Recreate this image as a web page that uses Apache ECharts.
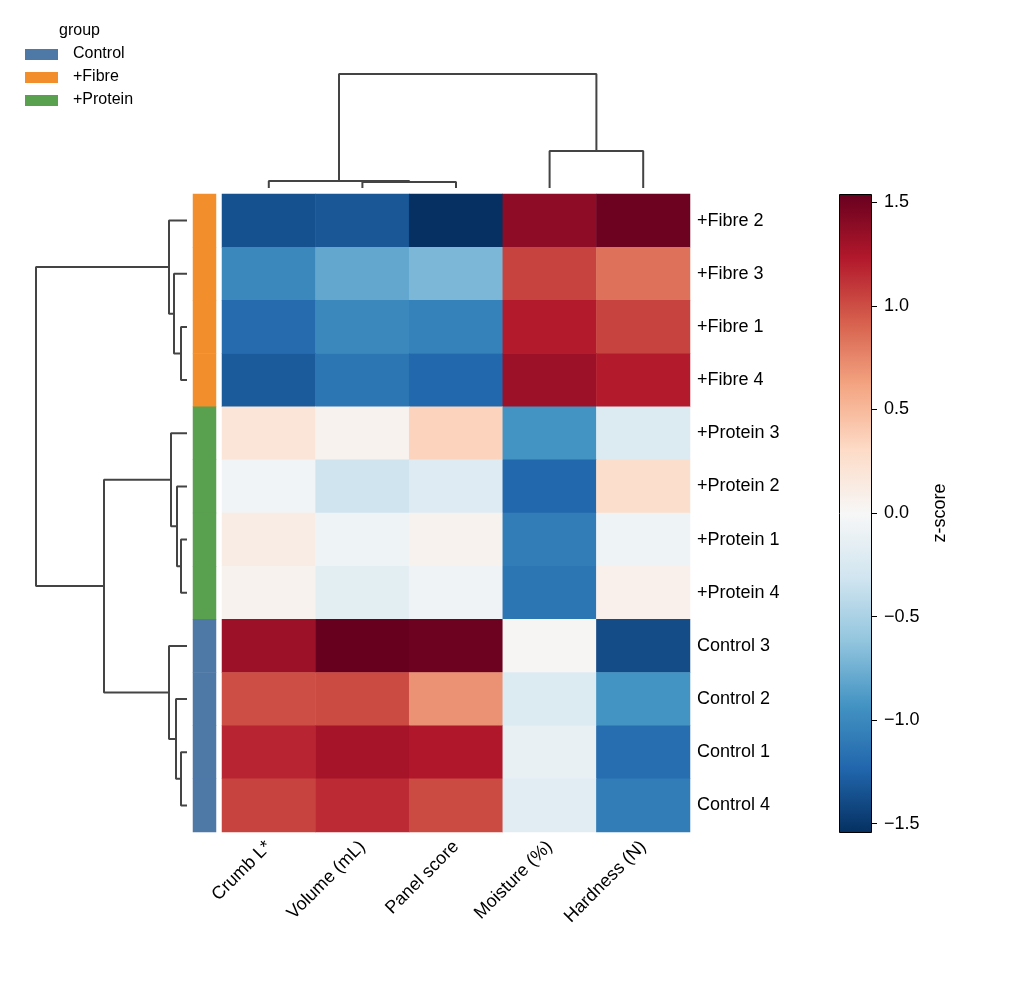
<!DOCTYPE html>
<html>
<head>
<meta charset="utf-8">
<script src="https://cdn.jsdelivr.net/npm/echarts@6/dist/echarts.min.js"></script>
<style>html,body{margin:0;padding:0;background:#fff}</style>
</head>
<body>
<div id="chart" style="width:1011px;height:990px;"></div>
<script>
var chart = echarts.init(document.getElementById('chart'));

// data
var cols = ['Crumb L*', 'Volume (mL)', 'Panel score', 'Moisture (%)', 'Hardness (N)'];
var rows = ['+Fibre 2', '+Fibre 3', '+Fibre 1', '+Fibre 4', '+Protein 3', '+Protein 2', '+Protein 1', '+Protein 4',
            'Control 3', 'Control 2', 'Control 1', 'Control 4'];
var rowGroup = ['+Fibre', '+Fibre', '+Fibre', '+Fibre', '+Protein', '+Protein', '+Protein', '+Protein',
                'Control', 'Control', 'Control', 'Control'];
var zvals = [
  [-1.35, -1.32, -1.55, 1.38, 1.52],
  [-1.00, -0.80, -0.70, 1.05, 0.85],
  [-1.20, -1.00, -1.05, 1.22, 1.05],
  [-1.30, -1.12, -1.22, 1.32, 1.22],
  [ 0.20,  0.05,  0.35, -0.92, -0.22],
  [-0.05, -0.32, -0.20, -1.22, 0.27],
  [ 0.12, -0.07,  0.05, -1.08, -0.07],
  [ 0.06, -0.16, -0.06, -1.12, 0.08],
  [ 1.32,  1.55,  1.52,  0.02, -1.38],
  [ 1.00,  1.02,  0.70, -0.22, -0.92],
  [ 1.18,  1.28,  1.24, -0.12, -1.18],
  [ 1.05,  1.15,  1.02, -0.18, -1.08]
];
var groups = ['Control', '+Fibre', '+Protein'];
var groupColors = {'Control': '#4e79a7', '+Fibre': '#f28e2b', '+Protein': '#59a14f'};
// dendrogram links: [posA, posB, height, heightA, heightB]
var rowLinks = [
  [2, 3, 6, 0, 0], [1, 2.5, 13, 0, 6], [0, 1.75, 18, 0, 13],
  [6, 7, 6, 0, 0], [5, 6.5, 10, 0, 6], [4, 5.75, 16, 0, 10],
  [10, 11, 6, 0, 0], [9, 10.5, 11, 0, 6], [8, 9.75, 18, 0, 11],
  [4.875, 8.875, 83, 16, 18], [0.875, 6.875, 151, 18, 83]
];
var colLinks = [
  [1, 2, 6, 0, 0], [0, 1.5, 7, 0, 6], [3, 4, 37, 0, 0], [0.75, 3.5, 114, 7, 37]
];
var zMin = -1.54, zMax = 1.54;
var cmap = ['#053061', '#2166ac', '#4393c3', '#92c5de', '#d1e5f0', '#f7f7f7',
            '#fddbc7', '#f4a582', '#d6604d', '#b2182b', '#67001f'];

var heatData = [];
zvals.forEach(function (r, i) { r.forEach(function (v, j) { heatData.push([j, i, v]); }); });
var stripData = rowGroup.map(function (g, i) { return {value: [0, i, 1], itemStyle: {color: groupColors[g]}}; });

var lineStyle = {color: '#444', width: 2};
var series = [
  {type: 'heatmap', xAxisIndex: 0, yAxisIndex: 0, data: heatData},
  {type: 'heatmap', xAxisIndex: 1, yAxisIndex: 1, data: stripData}
];
rowLinks.forEach(function (l) {
  series.push({type: 'line', xAxisIndex: 3, yAxisIndex: 3, symbol: 'none', silent: true, lineStyle: lineStyle,
    data: [[l[3], l[0]], [l[2], l[0]], [l[2], l[1]], [l[4], l[1]]]});
});
colLinks.forEach(function (l) {
  series.push({type: 'line', xAxisIndex: 4, yAxisIndex: 4, symbol: 'none', silent: true, lineStyle: lineStyle,
    data: [[l[0], l[3]], [l[0], l[2]], [l[1], l[2]], [l[1], l[4]]]});
});

var font = 'Liberation Sans, Arial, sans-serif';
var hidden = {show: false};
var stops = cmap.map(function (c, i) { return {offset: 1 - i / (cmap.length - 1), color: c}; }).reverse();
// colour bar spans zMin..zMax over 638px; axis grid spans -1.5..1.5
var cbTop = 194, cbH = 638, pxPer = cbH / (zMax - zMin);
var graphics = [
  {type: 'rect', left: 839, top: cbTop, z: -1, shape: {width: 32, height: cbH},
    style: {fill: new echarts.graphic.LinearGradient(0, 0, 0, 1, stops), stroke: '#000', lineWidth: 1}},
  {type: 'text', left: 59, top: 23, style: {text: 'group', font: '16px ' + font, fill: '#000'}}
];
groups.forEach(function (g, i) {
  graphics.push({type: 'rect', left: 25, top: 49 + i * 23, shape: {width: 33, height: 11}, style: {fill: groupColors[g]}});
  graphics.push({type: 'text', left: 73, top: 46 + i * 23, style: {text: g, font: '16px ' + font, fill: '#000'}});
});

chart.setOption({
  animation: false,
  backgroundColor: '#fff',
  textStyle: {fontFamily: font},
  grid: [
    {left: 222, top: 194, width: 468, height: 638},
    {left: 193, top: 194, width: 23, height: 638},
    {left: 839, top: cbTop + (zMax - 1.5) * pxPer, width: 32, height: 3 * pxPer},
    {left: 30, top: 194, width: 157, height: 638},
    {left: 222, top: 68, width: 468, height: 120}
  ],
  xAxis: [
    {type: 'category', gridIndex: 0, data: cols, position: 'bottom', axisLine: hidden, axisTick: hidden,
      axisLabel: {rotate: 45, fontSize: 18, color: '#000', margin: 12, interval: 0}},
    {type: 'category', gridIndex: 1, data: ['g'], show: false},
    {type: 'value', gridIndex: 2, min: 0, max: 1, show: false},
    {type: 'value', gridIndex: 3, min: 0, max: 157, inverse: true, show: false},
    {type: 'value', gridIndex: 4, min: -0.5, max: 4.5, show: false}
  ],
  yAxis: [
    {type: 'category', gridIndex: 0, data: rows, inverse: true, position: 'right', axisLine: hidden, axisTick: hidden,
      axisLabel: {fontSize: 18, color: '#000', margin: 7}},
    {type: 'category', gridIndex: 1, data: rows, inverse: true, show: false},
    {type: 'value', gridIndex: 2, min: -1.5, max: 1.5, interval: 0.5, position: 'right', splitLine: hidden,
      name: 'z-score', nameLocation: 'middle', nameRotate: 90, nameGap: 60,
      nameTextStyle: {fontSize: 18, color: '#000'},
      axisLine: {show: false, onZero: false},
      axisTick: {show: true, inside: false, length: 6, lineStyle: {color: '#000'}},
      axisLabel: {fontSize: 18, color: '#000', margin: 13,
        formatter: function (v) { return (v < 0 ? '\u2212' : '') + Math.abs(v).toFixed(1); }}},
    {type: 'value', gridIndex: 3, min: -0.5, max: 11.5, inverse: true, show: false},
    {type: 'value', gridIndex: 4, min: 0, max: 120, show: false}
  ],
  visualMap: {show: false, seriesIndex: 0, min: zMin, max: zMax, inRange: {color: cmap}},
  graphic: graphics,
  series: series
});
</script>
</body>
</html>
